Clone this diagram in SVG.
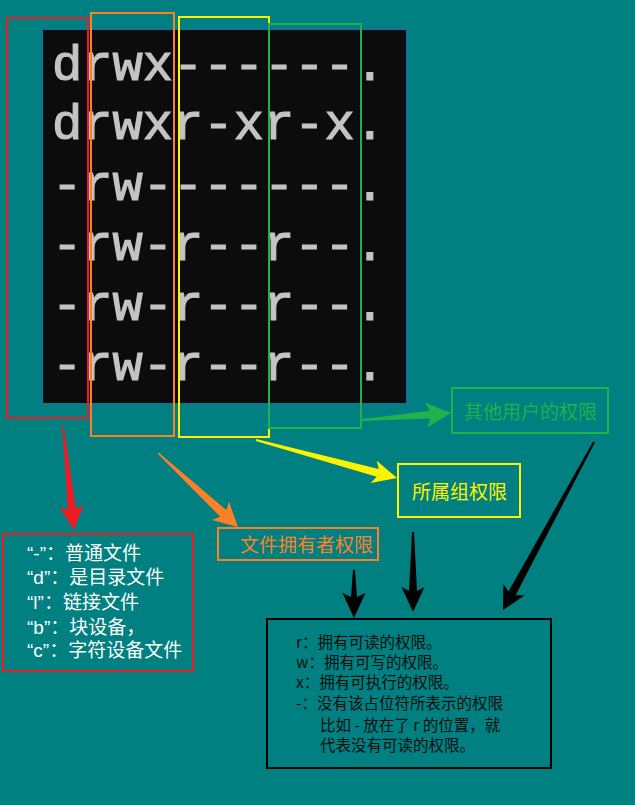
<svg xmlns="http://www.w3.org/2000/svg" width="635" height="805" viewBox="0 0 635 805">
<style>
.term{font-family:"Liberation Mono",monospace;font-size:50px;fill:#c4c4c4;stroke:#c4c4c4;stroke-width:1.2}
.cjk{font-family:"Noto Sans CJK SC","Noto Sans",sans-serif}
.mix{font-family:"Liberation Sans","Noto Sans CJK SC",sans-serif}
.lbl{font-size:19px}
.lst{font-size:19px;fill:#ffffff}
.note{font-size:15.5px;fill:#0d0d0d}
.box{fill:none;stroke-width:2}
</style>
<rect x="0" y="0" width="635" height="805" fill="#008080"/>
<g id="terminal">
<rect x="41" y="28" width="367" height="377" fill="#10739a"/>
<rect x="43" y="30" width="363" height="373" fill="#0c0c0c"/>
<text class="term" x="52" y="80" textLength="333" lengthAdjust="spacingAndGlyphs">drwx------.</text>
<text class="term" x="52" y="139" textLength="333" lengthAdjust="spacingAndGlyphs">drwxr-xr-x.</text>
<text class="term" x="52" y="200" textLength="333" lengthAdjust="spacingAndGlyphs">-rw-------.</text>
<text class="term" x="52" y="260" textLength="333" lengthAdjust="spacingAndGlyphs">-rw-r--r--.</text>
<text class="term" x="52" y="320" textLength="333" lengthAdjust="spacingAndGlyphs">-rw-r--r--.</text>
<text class="term" x="52" y="380" textLength="333" lengthAdjust="spacingAndGlyphs">-rw-r--r--.</text>
</g>
<g id="col-type"><rect class="box" x="7" y="18" width="81" height="400" stroke="#ed1c24"/></g>
<g id="col-owner"><rect class="box" x="91" y="13" width="83" height="423" stroke="#ff7f27"/></g>
<g id="col-group"><rect class="box" x="179" y="17" width="90" height="420" stroke="#fff200"/></g>
<g id="col-other"><rect class="box" x="269" y="24" width="92" height="404" stroke="#22b14c"/></g>
<g id="types">
<rect class="box" x="3" y="534" width="190" height="137" stroke="#ed1c24"/>
<text class="mix lst" x="27" y="560">“-”：普通文件</text>
<text class="mix lst" x="27" y="584">“d”：是目录文件</text>
<text class="mix lst" x="27" y="609">“l”：链接文件</text>
<text class="mix lst" x="27" y="634">“b”：块设备，</text>
<text class="mix lst" x="27" y="657">“c”：字符设备文件</text>
</g>
<g id="owner">
<rect class="box" x="218" y="528" width="160" height="32" stroke="#ff7f27"/>
<text class="cjk lbl" x="240" y="552" fill="#ff7f27">文件拥有者权限</text>
</g>
<g id="group">
<rect class="box" x="398" y="464" width="122" height="53" stroke="#fff200"/>
<text class="cjk lbl" x="412" y="499" fill="#fff200">所属组权限</text>
</g>
<g id="other">
<rect class="box" x="452" y="388" width="156" height="45" stroke="#22b14c"/>
<text class="cjk lbl" x="464" y="419" fill="#22b14c">其他用户的权限</text>
</g>
<g id="legend">
<rect class="box" x="267" y="619" width="284" height="149" stroke="#000000"/>
<text class="cjk note" x="296" y="648">r：拥有可读的权限。</text>
<text class="cjk note" x="296" y="668">w：拥有可写的权限。</text>
<text class="cjk note" x="296" y="688">x：拥有可执行的权限。</text>
<text class="cjk note" x="296" y="709">-：没有该占位符所表示的权限</text>
<text class="cjk note" x="320" y="731">比如 - 放在了 r 的位置，就</text>
<text class="cjk note" x="320" y="751">代表没有可读的权限。</text>
</g>
<g id="connectors">
<polygon fill="#ed1c24" points="62.2,426.1 67.8,509.5 59.6,507.4 74,530 83.4,504.9 75.8,508.7 63.8,425.9"/>
<polygon fill="#ff7f27" points="157.5,453.6 220.3,516.7 211.8,520 238,527 228.9,501.5 226.4,510.1 158.5,452.4"/>
<polygon fill="#fff200" points="255.7,441 376.7,476.7 370.8,482.9 397,478 376.8,460.7 378.7,468.9 256.3,439"/>
<polygon fill="#22b14c" points="362.1,421 430.4,418.6 427.1,427.4 451,413 425.1,402.5 429.8,410.7 361.9,419"/>
<polygon fill="#000000" points="353,570 351,597 342.5,593 354,618 365.5,593 357,597 355,570"/>
<polygon fill="#000000" points="412,532 409,591 401.5,587 413,612 424.5,587 417,591 414,532"/>
<polygon fill="#000000" points="593.1,441.5 508.5,591.4 503.4,584.1 503,610 524.5,595.5 515.6,595.2 594.9,442.5"/>
</g>
</svg>
